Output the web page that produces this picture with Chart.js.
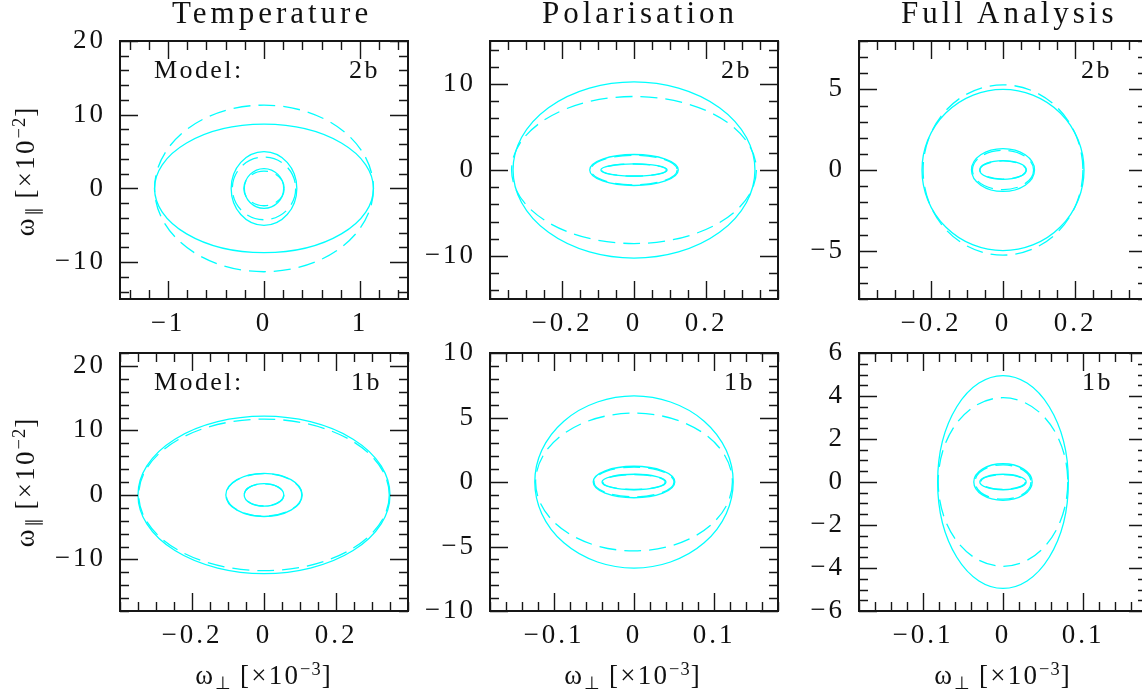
<!DOCTYPE html>
<html>
<head>
<meta charset="utf-8">
<script src="https://cdn.jsdelivr.net/npm/chart.js@4.4.1/dist/chart.umd.min.js"></script>
<style>
  html, body { margin: 0; padding: 0; background: #fff; width: 1142px; height: 693px; overflow: hidden; }
  canvas { position: absolute; }
  .t { position: absolute; font-family: 'Liberation Serif', serif; line-height: 1; white-space: nowrap; color: #111; }
  .title { font-size: 31px; letter-spacing: 4px; }
  .lab { font-size: 26px; letter-spacing: 2.4px; }
  .ax { font-size: 27px; letter-spacing: 2.2px; }
  .ylab { transform: translate(-50%, -50%) rotate(-90deg); }
  .xlab { transform: translateX(-50%); }
  .sub { font-size: 65%; vertical-align: -0.3em; letter-spacing: 0; }
  .sup { font-size: 68%; vertical-align: 0.5em; letter-spacing: 1px; }
</style>
</head>
<body>
<div id="wrap"></div>
<script>
// column titles and model labels
const colTitles = ['Temperature', 'Polarisation', 'Full Analysis'];
const modelNames = ['2b', '1b'];

// contour semi-axes: a along omega_perp [x10^-3], b along omega_par [x10^-2]
// Temperature, model 2b
const temp2bSolidA = [1.14, 0.342, 0.205];
const temp2bSolidB = [8.72, 5.0, 2.7];
const temp2bDashA = [1.14, 0.33, 0.21];
const temp2bDashB = [11.3, 4.25, 2.35];
// Polarisation, model 2b
const pol2bSolidA = [0.336, 0.123, 0.092];
const pol2bSolidB = [10.25, 1.8, 0.72];
const pol2bDashA = [0.34, 0.12, 0.09];
const pol2bDashB = [8.55, 1.72, 0.7];
// Full analysis, model 2b
const full2bSolidA = [0.225, 0.0875, 0.065];
const full2bSolidB = [5.0, 1.33, 0.58];
const full2bDashA = [0.222, 0.085, 0.064];
const full2bDashB = [5.28, 1.22, 0.56];
// Temperature, model 1b
const temp1bSolidA = [0.35, 0.106, 0.055];
const temp1bSolidB = [12.2, 3.35, 1.75];
const temp1bDashA = [0.348, 0.105, 0.055];
const temp1bDashB = [11.75, 3.3, 1.72];
// Polarisation, model 1b
const pol1bSolidA = [0.124, 0.051, 0.04];
const pol1bSolidB = [6.67, 1.22, 0.6];
const pol1bDashA = [0.123, 0.05, 0.039];
const pol1bDashB = [5.34, 1.15, 0.58];
// Full analysis, model 1b
const full1bSolidA = [0.0817, 0.0365, 0.029];
const full1bSolidB = [4.95, 0.85, 0.36];
const full1bDashA = [0.081, 0.035, 0.028];
const full1bDashB = [3.92, 0.8, 0.34];

// labelled tick values
const temp2bXTicks = [-1, 0, 1];
const temp2bYTicks = [-10, 0, 10, 20];
const pol2bXTicks = [-0.2, 0, 0.2];
const pol2bYTicks = [-10, 0, 10];
const full2bXTicks = [-0.2, 0, 0.2];
const full2bYTicks = [-5, 0, 5];
const temp1bXTicks = [-0.2, 0, 0.2];
const temp1bYTicks = [-10, 0, 10, 20];
const pol1bXTicks = [-0.1, 0, 0.1];
const pol1bYTicks = [-10, -5, 0, 5, 10];
const full1bXTicks = [-0.1, 0, 0.1];
const full1bYTicks = [-6, -4, -2, 0, 2, 4, 6];

const CYAN = '#00ffff';
const INK = '#161616';
const PAD_L = 100, PAD_T = 14, PAD_R = 4, PAD_B = 45;
const FRAME_W = 288, FRAME_H = 258;

const panels = [
  { left: 120, top: 41, x: [-1.5, 1.5], y: [-15, 20], xt: temp2bXTicks, yt: temp2bYTicks, xm: 0.2, ym: 2,
    sa: temp2bSolidA, sb: temp2bSolidB, da: temp2bDashA, db: temp2bDashB },
  { left: 490, top: 41, x: [-0.4, 0.4], y: [-15, 15], xt: pol2bXTicks, yt: pol2bYTicks, xm: 0.05, ym: 2,
    sa: pol2bSolidA, sb: pol2bSolidB, da: pol2bDashA, db: pol2bDashB },
  { left: 859, top: 41, x: [-0.4, 0.4], y: [-8, 8], xt: full2bXTicks, yt: full2bYTicks, xm: 0.05, ym: 1,
    sa: full2bSolidA, sb: full2bSolidB, da: full2bDashA, db: full2bDashB },
  { left: 120, top: 353, x: [-0.4, 0.4], y: [-18, 22], xt: temp1bXTicks, yt: temp1bYTicks, xm: 0.05, ym: 2,
    sa: temp1bSolidA, sb: temp1bSolidB, da: temp1bDashA, db: temp1bDashB },
  { left: 490, top: 353, x: [-0.18, 0.18], y: [-10, 10], xt: pol1bXTicks, yt: pol1bYTicks, xm: 0.02, ym: 1,
    sa: pol1bSolidA, sb: pol1bSolidB, da: pol1bDashA, db: pol1bDashB },
  { left: 859, top: 353, x: [-0.18, 0.18], y: [-6, 6], xt: full1bXTicks, yt: full1bYTicks, xm: 0.02, ym: 0.5,
    sa: full1bSolidA, sb: full1bSolidB, da: full1bDashA, db: full1bDashB },
];

function fmt(v) {
  return v < 0 ? '\u2212' + Math.abs(v) : String(v);
}

function minorValues(min, max, step) {
  const out = [];
  const k0 = Math.ceil(min / step - 1e-6), k1 = Math.floor(max / step + 1e-6);
  for (let k = k0; k <= k1; k++) out.push(k * step);
  return out;
}

// each contour is one dataset: its two semi-axis end points
function ellipseSets(A, B, dashed) {
  return A.map((a, i) => ({
    data: [{ x: a, y: 0 }, { x: 0, y: B[i] }],
    borderColor: CYAN,
    borderWidth: 1.3,
    borderDash: dashed ? [17, 8] : [],
    pointRadius: 0,
  }));
}

const spacingPlugin = {
  id: 'spacing',
  beforeUpdate(chart) { chart.ctx.letterSpacing = '3px'; },
  beforeDraw(chart) { chart.ctx.letterSpacing = '3px'; },
};

// strokes each contour from the positions the library gave its end points
const ellipsePlugin = {
  id: 'ellipses',
  afterDatasetsDraw(chart) {
    const { ctx, chartArea: area, scales: { x, y } } = chart;
    const cx = x.getPixelForValue(0), cy = y.getPixelForValue(0);
    ctx.save();
    ctx.beginPath();
    ctx.rect(area.left, area.top, area.width, area.height);
    ctx.clip();
    chart.data.datasets.forEach((ds, i) => {
      const pts = chart.getDatasetMeta(i).data;
      const rx = Math.abs(pts[0].x - cx), ry = Math.abs(cy - pts[1].y);
      ctx.strokeStyle = ds.borderColor;
      ctx.lineWidth = ds.borderWidth;
      ctx.setLineDash(ds.borderDash);
      ctx.beginPath();
      ctx.ellipse(cx, cy, rx, ry, 0, 0, Math.PI * 2);
      ctx.stroke();
    });
    ctx.restore();
  },
};

function framePlugin(p) {
  return {
    id: 'frame',
    afterDraw(chart) {
      const { ctx, chartArea: a, scales: { x, y } } = chart;
      ctx.save();
      ctx.strokeStyle = INK;
      ctx.lineWidth = 1.4;
      ctx.setLineDash([]);
      ctx.beginPath();
      const xTicks = (vals, len) => vals.forEach(v => {
        const px = Math.round(x.getPixelForValue(v)) + 0.5;
        ctx.moveTo(px, a.bottom); ctx.lineTo(px, a.bottom - len);
        ctx.moveTo(px, a.top); ctx.lineTo(px, a.top + len);
      });
      const yTicks = (vals, len) => vals.forEach(v => {
        const py = Math.round(y.getPixelForValue(v)) + 0.5;
        ctx.moveTo(a.left, py); ctx.lineTo(a.left + len, py);
        ctx.moveTo(a.right, py); ctx.lineTo(a.right - len, py);
      });
      xTicks(minorValues(p.x[0], p.x[1], p.xm), 9);
      yTicks(minorValues(p.y[0], p.y[1], p.ym), 9);
      xTicks(p.xt, 18);
      yTicks(p.yt, 18);
      ctx.stroke();
      ctx.lineWidth = 2;
      ctx.strokeRect(a.left, a.top, a.width, a.height);
      ctx.restore();
    },
  };
}

const wrap = document.getElementById('wrap');

panels.forEach((p, i) => {
  const canvas = document.createElement('canvas');
  const w = PAD_L + FRAME_W + PAD_R, h = PAD_T + FRAME_H + PAD_B;
  canvas.width = w;
  canvas.height = h;
  canvas.style.left = (p.left - PAD_L) + 'px';
  canvas.style.top = (p.top - PAD_T) + 'px';
  canvas.style.width = w + 'px';
  canvas.style.height = h + 'px';
  wrap.appendChild(canvas);

  const tickFont = { family: "'Liberation Serif', serif", size: 27 };

  new Chart(canvas.getContext('2d'), {
    type: 'scatter',
    data: {
      datasets: [...ellipseSets(p.sa, p.sb, false), ...ellipseSets(p.da, p.db, true)],
    },
    options: {
      responsive: false,
      animation: false,
      events: [],
      layout: { autoPadding: false, padding: { left: 0, top: PAD_T, right: PAD_R, bottom: 0 } },
      plugins: { legend: { display: false }, tooltip: { enabled: false }, title: { display: false } },
      scales: {
        x: {
          type: 'linear',
          min: p.x[0],
          max: p.x[1],
          grid: { display: false, drawTicks: false },
          border: { display: false },
          afterBuildTicks: s => { s.ticks = p.xt.map(v => ({ value: v })); },
          afterFit: s => {
            s.height = PAD_B;
            s.paddingLeft = 0; s.paddingRight = 0; s.paddingTop = 0; s.paddingBottom = 0;
          },
          ticks: {
            autoSkip: false,
            maxRotation: 0,
            padding: 9,
            color: '#111',
            font: tickFont,
            callback: v => fmt(v),
          },
        },
        y: {
          type: 'linear',
          min: p.y[0],
          max: p.y[1],
          grid: { display: false, drawTicks: false },
          border: { display: false },
          afterBuildTicks: s => { s.ticks = p.yt.map(v => ({ value: v })); },
          afterFit: s => {
            s.width = PAD_L;
            s.paddingLeft = 0; s.paddingRight = 0; s.paddingTop = 0; s.paddingBottom = 0;
          },
          ticks: {
            autoSkip: false,
            padding: 14,
            color: '#111',
            font: tickFont,
            callback: v => fmt(v),
          },
        },
      },
    },
    plugins: [spacingPlugin, ellipsePlugin, framePlugin(p)],
  });
});

// text around the panels
function addText(cls, html, left, top) {
  const d = document.createElement('div');
  d.className = 't ' + cls;
  d.innerHTML = html;
  d.style.left = left + 'px';
  d.style.top = top + 'px';
  wrap.appendChild(d);
}

const titleLeft = [172, 542, 901];
colTitles.forEach((t, i) => addText('title', t, titleLeft[i], -3));

const rowTop = [57, 369];
const tagLeft = [[349, 721, 1081], [351, 724, 1082]];
modelNames.forEach((m, r) => {
  addText('lab', 'Model:', 154, rowTop[r]);
  tagLeft[r].forEach(l => addText('lab', m, l, rowTop[r]));
});

const yTitle = '\u03c9<span class="sub">\u2225</span> [\u00d710<span class="sup">\u22122</span>]';
addText('ax ylab', yTitle, 26, 171);
addText('ax ylab', yTitle, 26, 482);

const xTitle = '\u03c9<span class="sub">\u22a5</span> [\u00d710<span class="sup">\u22123</span>]';
[264, 633, 1003].forEach(cx => addText('ax xlab', xTitle, cx, 660));
</script>
</body>
</html>
